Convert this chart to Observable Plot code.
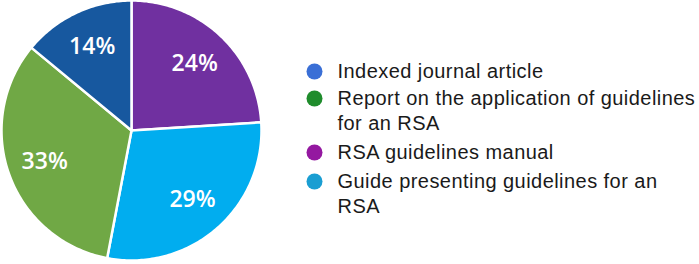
<!DOCTYPE html>
<html>
<head>
<meta charset="utf-8">
<script src="https://cdn.jsdelivr.net/npm/d3@7"></script>
<script src="https://cdn.jsdelivr.net/npm/@observablehq/plot@0.6"></script>
<style>
  html, body { margin: 0; padding: 0; background: #fff; }
  #chart svg g[font-family="Liberation Sans"] { letter-spacing: 0.45px; }
</style>
</head>
<body>
<div id="chart"></div>
<script>
// ---- data ----
const categories = [
  "Indexed journal article",
  "Report on the application of guidelines for an RSA",
  "RSA guidelines manual",
  "Guide presenting guidelines for an RSA"
];
const shares = [14, 33, 24, 29];
const legendLabels = [
  "Indexed journal article",
  "Report on the application of guidelines\nfor an RSA",
  "RSA guidelines manual",
  "Guide presenting guidelines for an\nRSA"
];
// clockwise from 12 o'clock
const sliceOrder = [
  "RSA guidelines manual",
  "Guide presenting guidelines for an RSA",
  "Report on the application of guidelines for an RSA",
  "Indexed journal article"
];
// ---- styles ----
const pieColors = ["#17589f", "#70a845", "#7030a0", "#01adef"];
const legendColors = ["#3a6fd6", "#1f8c2c", "#9418a0", "#1a9ed2"];

// ---- layout ----
const W = 699, H = 264;
const cx = 131, cy = 130, R = 130;
const toX = px => (px - cx) / R;
const toY = py => (cy - py) / R;

const pie = d3.pie().sort(null).startAngle(0).endAngle(2 * Math.PI)
  .value(d => shares[categories.indexOf(d)]);
const arcs = pie(sliceOrder);

const slices = arcs.map(a => {
  const n = Math.max(8, Math.ceil((a.endAngle - a.startAngle) * 60));
  const ring = [[0, 0]];
  for (let i = 0; i <= n; i++) {
    const t = a.startAngle + (a.endAngle - a.startAngle) * i / n;
    ring.push([Math.sin(t), Math.cos(t)]);
  }
  ring.push([0, 0]);
  return {type: "Feature", properties: {name: a.data, value: a.value},
          geometry: {type: "Polygon", coordinates: [ring]}};
});

const labelR = 0.71;
const labels = arcs.map(a => {
  const m = (a.startAngle + a.endAngle) / 2;
  return {name: a.data, text: a.value + "%", x: labelR * Math.sin(m), y: labelR * Math.cos(m)};
});

const rowY = [71, 98, 152, 181];
const legend = categories.map((c, i) => ({
  name: c, label: legendLabels[i], color: legendColors[i],
  x: toX(314), tx: toX(337), y: toY(rowY[i])
}));

const frame = {type: "MultiPoint", coordinates: [[toX(0), toY(0)], [toX(W), toY(H)]]};

const chart = Plot.plot({
  width: W, height: H,
  margin: 0,
  projection: {type: "reflect-y", domain: frame},
  color: {domain: categories, range: pieColors},
  marks: [
    Plot.geo(slices, {fill: d => d.properties.name, stroke: "white", strokeWidth: 2.5}),
    Plot.text(labels, {x: "x", y: "y", text: "text", fill: "white",
      fontSize: 23, fontWeight: 600, fontFamily: "Open Sans"}),
    Plot.dot(legend, {x: "x", y: "y", r: 8, fill: "color", stroke: null}),
    Plot.text(legend, {x: "tx", y: "y", text: "label", textAnchor: "start",
      lineAnchor: "top", dy: -12, lineHeight: 1.27, fontSize: 20,
      fontFamily: "Liberation Sans", fill: "#1a1a1a"})
  ]
});
document.getElementById("chart").appendChild(chart);
</script>
</body>
</html>
